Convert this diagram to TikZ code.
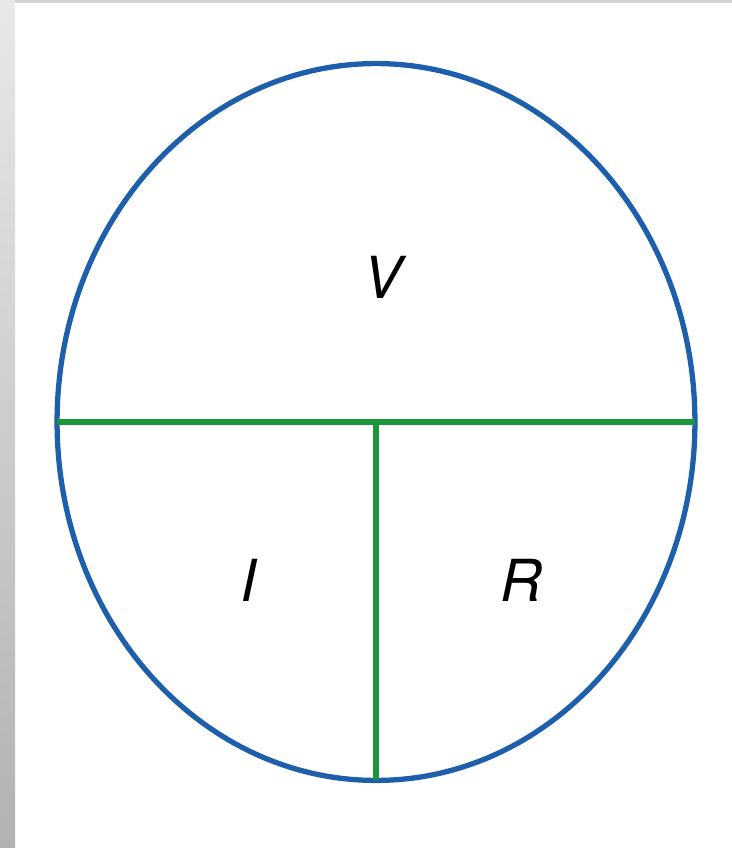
\documentclass[tikz,border=0pt]{standalone}
\usepackage{fontspec}
\setmainfont{TeX Gyre Heros}
\usepackage{tikz}
\usetikzlibrary{positioning,shapes.geometric}
\definecolor{cRing}{RGB}{30,95,172}
\definecolor{cSplit}{RGB}{28,150,60}
\definecolor{cFrameTop}{RGB}{232,232,232}
\definecolor{cFrameBot}{RGB}{178,178,178}

\begin{document}
\begin{tikzpicture}[x=0.02cm,y=-0.02cm,
   ring/.style={draw=cRing,ellipse,line width=3pt,inner sep=0pt,outer sep=0pt,
                minimum width=12.76cm,minimum height=14.34cm},
   split/.style={draw=cSplit,line width=3pt},
   qty/.style={font=\fontsize{33}{36}\selectfont\itshape,inner sep=0pt}]
 % page and grey frame strips
 \useasboundingbox (0,0) rectangle (732,848);
 \fill[white] (0,0) rectangle (732,848);
 \shade[top color=cFrameTop,bottom color=cFrameBot] (0,0) rectangle (15,848);
 \fill[black!17] (15,0) rectangle (732,3);
 % the triangle-of-formula ellipse
 \node[ring] (ring) at (376,422) {};
 \draw[split] (ring.west) -- (ring.east);
 \draw[split] (ring.center) -- (ring.south);
 % quantities
 \node[qty] (volt) at (383,277) {V};
 \node[qty] (amp) at (249,580) {I};
 \node[qty] (ohm) at (521,580) {R};
\end{tikzpicture}
\end{document}
